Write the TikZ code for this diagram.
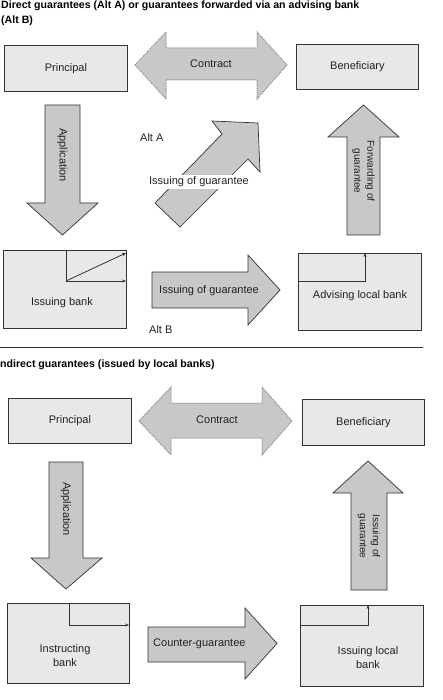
\documentclass[tikz,border=0pt]{standalone}
\usepackage{fontspec}
\setmainfont{Liberation Sans}
\usetikzlibrary{arrows.meta}
\definecolor{linec}{HTML}{333333}
\definecolor{textc}{HTML}{222222}
\definecolor{boxfill}{HTML}{E8E8E8}
\definecolor{arrowfill}{HTML}{C8C8C8}
\definecolor{dotc}{HTML}{8A8A8A}
\tikzset{
  box/.style={draw=linec, fill=boxfill, line width=0.9pt, inner sep=0pt, anchor=north west, text=textc, font=\fontsize{11}{14}\selectfont},
  bigarrow/.style={draw=linec, fill=arrowfill, line width=0.7pt},
  dotarrow/.style={draw=dotc, fill=arrowfill, line width=1pt, densely dotted},
  lbl/.style={text=textc, font=\fontsize{11}{14}\selectfont, inner sep=1pt},
  smalllbl/.style={text=textc, font=\fontsize{10}{13}\selectfont, inner sep=1pt, align=center},
  titlelbl/.style={text=black, font=\bfseries\fontsize{10.6}{15.5}\selectfont, inner sep=0pt, anchor=west, align=left},
  inner/.style={draw=linec, line width=0.8pt},
  innerarrow/.style={draw=linec, line width=0.8pt, -{Stealth[length=4pt,width=3pt]}}
}
\begin{document}
\begin{tikzpicture}[x=1pt,y=-1pt]
\useasboundingbox (0,0) rectangle (443,700);
\fill[white] (0,0) rectangle (443,700);

% ---------- Top section ----------
\node[titlelbl] (t1) at (1,13.5) {Direct guarantees (Alt A) or guarantees forwarded via an advising bank\\(Alt B)};

\node[box, minimum width=123, minimum height=46] (P1) at (4,45) {Principal};
\node[box, minimum width=122, minimum height=45] (B1) at (296,44) {Beneficiary};
\node[box, minimum width=123, minimum height=78] (IB) at (3,250) {};
\node[lbl] (IBt) at (62,303) {Issuing bank};
\node[box, minimum width=123, minimum height=77] (ALB) at (298,253) {};
\node[lbl] (ALBt) at (360,296) {Advising local bank};

% Contract arrow
\draw[dotarrow] (135,65) -- (166,32) -- (166,48) -- (257,48) -- (257,32) -- (287,65) -- (257,99) -- (257,80) -- (166,80) -- (166,99) -- cycle;
\node[lbl] (C1) at (211,64) {Contract};

% Application arrow
\draw[bigarrow] (45,105) -- (80,105) -- (80,203) -- (98,203) -- (62.5,235) -- (27,203) -- (45,203) -- cycle;
\node[lbl, rotate=-90] (A1) at (62.5,155) {Application};

% Alt A diagonal arrow
\draw[bigarrow] (155,203) -- (222,134) -- (212,121) -- (258,123) -- (260,172) -- (248,159) -- (180,227) -- cycle;
\node[lbl, fill=white, inner sep=2pt] (IG1) at (199,182) {Issuing of guarantee};
\node[lbl, anchor=west] (AltA) at (139,138) {Alt A};

% Forwarding arrow
\draw[bigarrow] (347,235) -- (347,137) -- (328,137) -- (363.5,105) -- (399,137) -- (380,137) -- (380,235) -- cycle;
\node[smalllbl, rotate=-90] (F1) at (363.5,171) {Forwarding of\\guarantee};

% Issuing of guarantee (Alt B)
\draw[bigarrow] (152,272) -- (248,272) -- (248,255) -- (280,290) -- (248,325) -- (248,308) -- (152,308) -- cycle;
\node[lbl, anchor=west] (IG2) at (158,291) {Issuing of guarantee};
\node[lbl, anchor=west] (AltB) at (148,330) {Alt B};

% inner lines
\coordinate (ib1) at (66,250);
\coordinate (ib2) at (66,281);
\coordinate (ib3) at (126,281);
\coordinate (ib4) at (126,253);
\draw[inner] (ib1) -- (ib2);
\draw[innerarrow] (ib2) -- (ib3);
\draw[innerarrow] (ib2) -- (ib4);
\coordinate (al1) at (298,281);
\coordinate (al2) at (365,281);
\coordinate (al3) at (365,253);
\draw[innerarrow] (al1) -- (al2) -- (al3);

% separator
\coordinate (s1) at (0,347);
\coordinate (s2) at (423,347);
\draw[linec, line width=0.9pt] (s1) -- (s2);

% ---------- Bottom section ----------
\node[titlelbl] (t2) at (0,365) {ndirect guarantees (issued by local banks)};

\node[box, minimum width=123, minimum height=45] (P2) at (8,398) {Principal};
\node[box, minimum width=122, minimum height=46] (B2) at (302,399) {Beneficiary};
\node[box, minimum width=122, minimum height=80] (InB) at (7,603) {};
\node[lbl, align=center] (InBt) at (65,656) {Instructing\\bank};
\node[box, minimum width=123, minimum height=81] (ILB) at (300,605) {};
\node[lbl, align=center] (ILBt) at (368,658) {Issuing local\\bank};

% Contract arrow 2
\draw[dotarrow] (139,421) -- (171,387) -- (171,403) -- (262,403) -- (262,387) -- (292,421) -- (262,455) -- (262,438) -- (171,438) -- (171,455) -- cycle;
\node[lbl] (C2) at (217,420) {Contract};

% Application 2
\draw[bigarrow] (49,462) -- (83,462) -- (83,558) -- (102,558) -- (66,589) -- (31,558) -- (49,558) -- cycle;
\node[lbl, rotate=-90] (A2) at (66,509) {Application};

% Issuing of guarantee up 2
\draw[bigarrow] (351,590) -- (351,493) -- (333,493) -- (368,461) -- (403,493) -- (387,493) -- (387,590) -- cycle;
\node[smalllbl, rotate=-90] (IG3) at (369,536) {Issuing of\\guarantee};

% Counter-guarantee
\draw[bigarrow] (148,627) -- (245,627) -- (245,608) -- (277,643.5) -- (245,679) -- (245,662) -- (148,662) -- cycle;
\node[lbl, anchor=west] (CG) at (152,644) {Counter-guarantee};

% inner lines
\coordinate (in1) at (69,603);
\coordinate (in2) at (69,625);
\coordinate (in3) at (129,625);
\draw[innerarrow] (in1) -- (in2) -- (in3);
\coordinate (il1) at (300,625);
\coordinate (il2) at (368,625);
\coordinate (il3) at (368,605);
\draw[innerarrow] (il1) -- (il2) -- (il3);
\end{tikzpicture}
\end{document}
